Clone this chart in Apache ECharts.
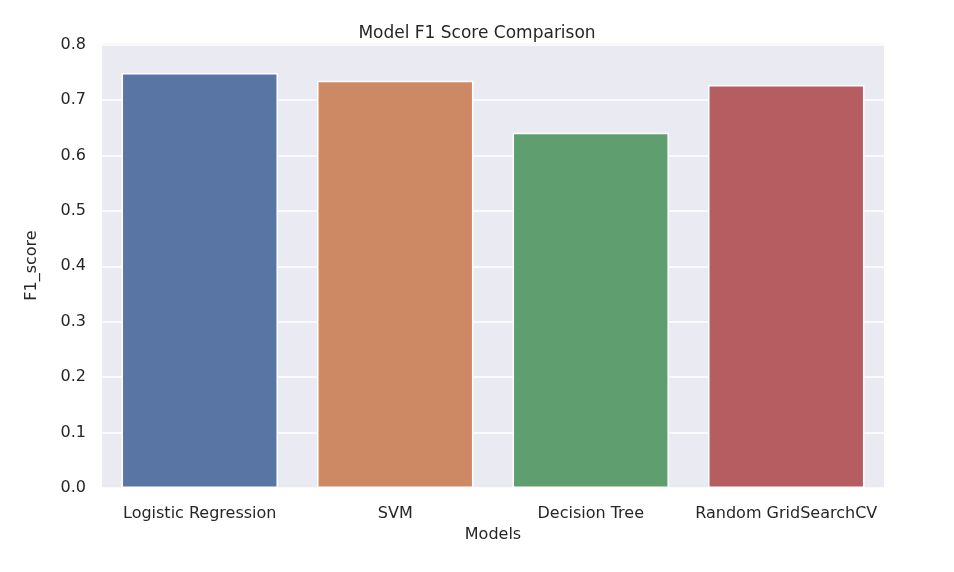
<!DOCTYPE html>
<html><head><meta charset="utf-8">
<script src="https://cdn.jsdelivr.net/npm/echarts@6/dist/echarts.min.js"></script>
<style>html,body{margin:0;background:#fff}#c{width:954px;height:572px}</style>
</head><body><div id="c"></div>
<script>
const categories = ["Logistic Regression","SVM","Decision Tree","Random GridSearchCV"];
const f1Scores = [0.749, 0.735, 0.641, 0.727];
const barColors = ["#5975a4","#cc8963","#5f9e6e","#b55d60"];
const chart = echarts.init(document.getElementById('c'));
const txt = {color:'#262626', fontFamily:'DejaVu Sans', fontSize:16};
chart.setOption({
  backgroundColor:'#fff',
  title:{text:'Model F1 Score Comparison', left:'center', top:20, textStyle:{...txt, fontWeight:'normal', fontSize:17}},
  grid:{left:102, right:70, top:43, bottom:84, show:true, backgroundColor:'#EAEAF2', borderWidth:0},
  xAxis:{type:'category', data:categories, name:'Models', nameLocation:'middle', nameGap:38, nameTextStyle:txt,
    axisLine:{show:false}, axisTick:{show:false}, axisLabel:{...txt, margin:18, interval:0},
    splitLine:{show:false}},
  yAxis:{type:'value', min:0, max:0.803, interval:0.1, name:'F1_score', nameLocation:'middle', nameGap:62, nameTextStyle:txt,
    axisLine:{show:false}, axisTick:{show:false},
    axisLabel:{...txt, margin:16, formatter:v=>v.toFixed(1), showMaxLabel:false},
    splitLine:{lineStyle:{color:'#fff', width:1.5}}},
  series:[{type:'bar', barCategoryGap:'20%', silent:true,
    data:f1Scores.map((v,i)=>({value:v, itemStyle:{color:barColors[i]}})),
    itemStyle:{borderColor:'#fff', borderWidth:1.5}}]
});
</script></body></html>
